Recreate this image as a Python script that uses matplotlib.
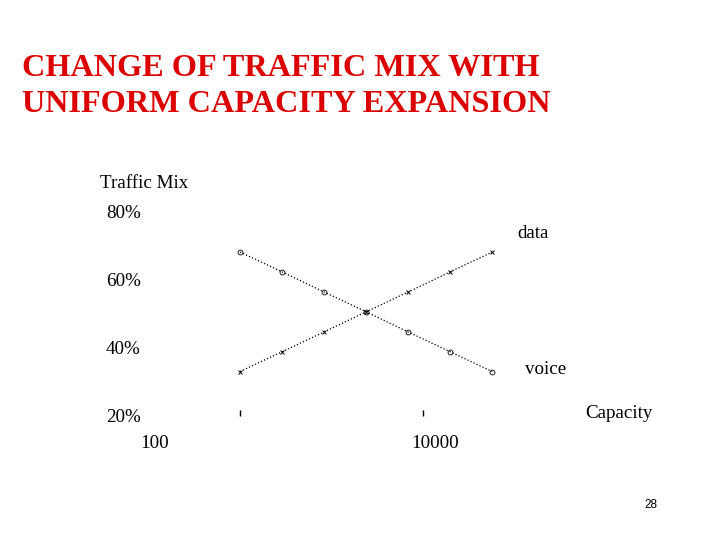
import matplotlib
matplotlib.use("Agg")
import matplotlib.pyplot as plt

# capacity values (log scale) and traffic share (%)
capacity = [100, 288, 830, 2390, 6880, 19800, 57100]
data_mix = [33, 38.8, 44.6, 50.5, 56.3, 62.2, 68]
voice_mix = [68, 62.2, 56.3, 50.5, 44.6, 38.8, 33]

y_ticks = [80, 60, 40, 20]
y_labels = ["80%", "60%", "40%", "20%"]
x_ticks = [100, 10000]
x_labels = ["100", "10000"]

W, H = 720, 540
fig = plt.figure(figsize=(7.2, 5.4), dpi=100)
serif = "Liberation Serif"
fs = 13.7


def fx(px):
    return px / W


def fy(py):
    return 1 - py / H


ax = fig.add_axes([fx(145), fy(460), fx(660) - fx(145), fy(180) - fy(460)])
ax.set_xscale("log")
ax.set_xlim(9.155, 3.89e6)
ax.set_ylim(7.1, 89.1)

ax.plot(capacity, data_mix, color="black", ls=":", lw=0.9,
        marker="x", ms=3, mew=0.7)
ax.plot(capacity, voice_mix, color="black", ls=":", lw=0.9,
        marker="o", ms=3.5, mfc="none", mew=0.6)

for s in ["top", "right", "left"]:
    ax.spines[s].set_visible(False)
ax.spines["bottom"].set_position(("data", 20.85))
ax.spines["bottom"].set_visible(False)

ax.set_yticks(y_ticks)
ax.set_yticklabels(y_labels, fontfamily=serif, fontsize=fs)
ax.tick_params(axis="y", length=0, pad=3)
ax.set_xticks(x_ticks)
ax.set_xticklabels([])
ax.minorticks_off()
ax.tick_params(axis="x", which="both", direction="inout", length=4, width=1)

# x tick labels sit left of their tick marks in the original
fig.text(fx(155), fy(443), x_labels[0], ha="center", va="center",
         fontfamily=serif, fontsize=fs)
fig.text(fx(435), fy(443), x_labels[1], ha="center", va="center",
         fontfamily=serif, fontsize=fs)

fig.text(fx(100), fy(184), "Traffic Mix", ha="left", va="center",
         fontfamily=serif, fontsize=fs)
fig.text(fx(517), fy(233), "data", ha="left", va="center",
         fontfamily=serif, fontsize=fs)
fig.text(fx(525), fy(369), "voice", ha="left", va="center",
         fontfamily=serif, fontsize=fs)
fig.text(fx(585), fy(413), "Capacity", ha="left", va="center",
         fontfamily=serif, fontsize=fs)

fig.text(fx(22), fy(68), "CHANGE OF TRAFFIC MIX WITH", ha="left", va="center",
         fontfamily=serif, fontweight="bold", fontsize=23.2, color="#DD0000")
fig.text(fx(22), fy(104), "UNIFORM CAPACITY EXPANSION", ha="left", va="center",
         fontfamily=serif, fontweight="bold", fontsize=23.2, color="#DD0000")

fig.text(fx(651), fy(505), "28", ha="center", va="center",
         fontfamily="Liberation Sans", fontsize=8.5)

fig.savefig("out.png", dpi=100)
